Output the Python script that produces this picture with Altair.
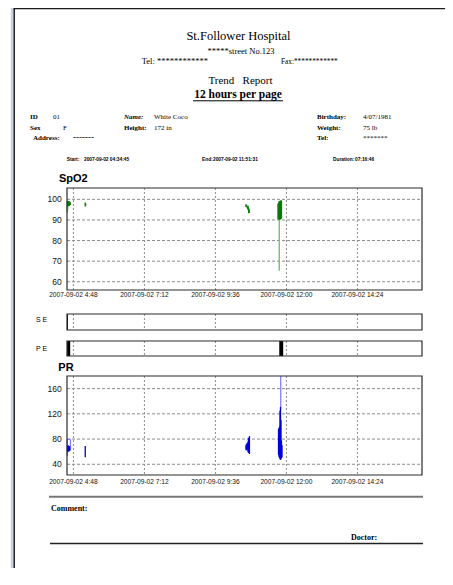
import altair as alt
import pandas as pd

# ---------------- data ----------------
hospital_name = "St.Follower Hospital"
hospital_street = "*****street No.123"
hospital_tel = "Tel: ************"
hospital_fax = "Fax:************"
report_title = "Trend\u00a0\u00a0\u00a0Report"
report_subtitle = "12 hours per page"

field_labels = ["ID", "Sex", "Address:", "Name:", "Height:", "Birthday:", "Weight:", "Tel:"]
field_values = ["01", "F", "-------", "White Coco", "172 in", "4/07/1981", "75 lb", "*******"]

session_labels = ["Start:", "End:", "Duration:"]
session_values = ["2007-09-02 04:34:45", "2007-09-02 11:51:31", "07:16:46"]

panel_titles = ["SpO2", "S E", "P E", "PR"]
footer_labels = ["Comment:", "Doctor:"]

# time in minutes after midnight, page covers 12 hours
time_domain = [275, 995]
tick_minutes = [288, 432, 576, 720, 864]
tick_labels = ["2007-09-02 4:48", "2007-09-02 7:12", "2007-09-02 9:36",
               "2007-09-02 12:00", "2007-09-02 14:24"]

spo2_domain = [56, 105.5]
spo2_ticks = [60, 70, 80, 90, 100]
pr_domain = [23, 180]
pr_ticks = [40, 80, 120, 160]

spo2_light_t = [275.5, 276.5, 705.5]
spo2_light_lo = [93.5, 95.0, 65.3]
spo2_light_hi = [99.0, 99.0, 91.0]

spo2_dark_t = [276.5, 277.5, 278.5, 279.5, 280.5, 281.5, 312, 312.8,
               638, 639, 640.5, 641.5, 642.5, 643.5, 644.5,
               703, 704, 705, 706, 707, 708, 709, 710]
spo2_dark_lo = [96.5, 96.8, 97.0, 96.8, 97.0, 97.3, 96.5, 96.8,
                96.3, 96.6, 95.8, 95.2, 94.8, 93.4, 93.2,
                90.3, 90.3, 90.2, 90.2, 90.2, 90.3, 90.4, 90.6]
spo2_dark_hi = [99.3, 99.0, 99.2, 98.8, 99.0, 98.6, 98.5, 98.0,
                97.6, 97.4, 96.8, 96.9, 96.6, 95.7, 95.2,
                97.8, 98.4, 98.9, 99.1, 99.3, 99.3, 99.4, 99.4]

pr_light_t = [275.5, 282.0, 708.5]
pr_light_lo = [53.0, 62.0, 128.0]
pr_light_hi = [79.5, 79.5, 180.0]
pr_light_top_t1 = [275.5]
pr_light_top_t2 = [282.0]
pr_light_top_v = [79.5]

pr_dark_t = [276.5, 277.5, 278.5, 279.5, 280.5, 312,
             638, 639, 640, 641, 642, 643, 645,
             704, 705, 706, 707, 708, 709, 710, 711]
pr_dark_lo = [60, 61, 60, 61, 62, 51,
              63, 62, 64, 64, 60, 58, 56.3,
              55, 52, 50, 48, 47, 48, 50, 51]
pr_dark_hi = [69, 70, 68, 69, 68, 69,
              70, 73, 72, 73, 76, 82, 84.7,
              97, 95, 100, 125, 131, 110, 78, 70]

se_start = [275]
se_end = [277]
pe_start = [275, 705.5]
pe_end = [281.5, 713.5]

# ---------------- styling / layout ----------------
OFF = 8  # page margin; all layout values below are page pixels
W, H = 437, 560
SERIF = "Liberation Serif"
SANS = "Liberation Sans"
DARK_GREEN = "#0b7a0b"
LIGHT_GREEN = "#6ec46e"
DARK_BLUE = "#0000dd"
LIGHT_BLUE = "#8080ff"
GRID = "#8c8c8c"
FRAME = "#2b2b2b"

PX0, PX1 = 67, 422
X_SCALE = alt.Scale(domain=time_domain, range=[PX0 - OFF, PX1 - OFF], zero=False, nice=False)
SPO2_TOP, SPO2_BOT = 188, 290
SPO2_Y = alt.Scale(domain=spo2_domain, range=[SPO2_BOT - OFF, SPO2_TOP - OFF], zero=False, nice=False)
PR_TOP, PR_BOT = 376, 475
PR_Y = alt.Scale(domain=pr_domain, range=[PR_BOT - OFF, PR_TOP - OFF], zero=False, nice=False)
SE_TOP, SE_BOT = 314, 330
PE_TOP, PE_BOT = 341, 356


def X(field):
    return alt.X(field, type="quantitative", scale=X_SCALE, axis=None)


def txt(s, x, y, size, font=SERIF, weight="normal", align="left",
        baseline="alphabetic", style="normal", color="#000000"):
    return alt.Chart().mark_text(
        align=align, baseline=baseline, font=font, fontSize=size,
        fontWeight=weight, fontStyle=style, color=color
    ).encode(x=alt.value(x - OFF), y=alt.value(y - OFF), text=alt.value(s))


def hline(x1, x2, y, color, width):
    return alt.Chart().mark_rule(color=color, strokeWidth=width).encode(
        x=alt.value(x1 - OFF), x2=alt.value(x2 - OFF), y=alt.value(y - OFF))


def vline(x, y1, y2, color, width):
    return alt.Chart().mark_rule(color=color, strokeWidth=width).encode(
        x=alt.value(x - OFF), y=alt.value(y1 - OFF), y2=alt.value(y2 - OFF))


def frame(top, bot, width=1.2):
    return alt.Chart().mark_rect(fillOpacity=0, stroke=FRAME, strokeWidth=width).encode(
        x=alt.value(PX0 - OFF), x2=alt.value(PX1 - OFF),
        y=alt.value(top - OFF), y2=alt.value(bot - OFF))


layers = []

# page border
layers.append(vline(12, OFF, OFF + H, "#c9d1ea", 2.5))
layers.append(vline(14.2, OFF + 0.5, OFF + H, "#1a1a1a", 1.5))
layers.append(hline(13.5, OFF + W, OFF + 0.6, "#1a1a1a", 1.2))

# header
layers.append(txt(hospital_name, 238.5, 39.5, 12.5, align="center"))
layers.append(txt(hospital_street, 241, 54, 8.5, align="center"))
layers.append(txt(hospital_tel, 141.7, 63.5, 8.5))
layers.append(txt(hospital_fax, 281, 63.5, 7.3))
layers.append(txt(report_title, 240.5, 83.5, 11, align="center"))
layers.append(txt(report_subtitle, 238, 98, 11.5, weight="bold", align="center"))
layers.append(hline(193, 283, 100.8, "#000000", 1))

# patient info
label_pos = [(30, 118.5), (30, 130), (33, 140), (124, 118.5), (124, 130),
             (317, 118.5), (317, 130), (317, 140)]
value_pos = [(53, 118.5), (63, 130), (73, 140), (154, 118.5), (154, 130),
             (363, 118.5), (363, 130), (363, 140)]
for i, (lab, val) in enumerate(zip(field_labels, field_values)):
    lx, ly = label_pos[i]
    vx, vy = value_pos[i]
    layers.append(txt(lab, lx, ly, 7, weight="bold",
                      style="italic" if lab == "Name:" else "normal"))
    layers.append(txt(val, vx, vy, 9 if val.startswith("-") else 7,
                      weight="bold" if val.startswith("-") else "normal"))

sess_label_x = [66.7, 202, 333]
sess_value_x = [84, 213, 355]
for i in range(3):
    layers.append(txt(session_labels[i], sess_label_x[i], 160, 4.8, font=SANS,
                      weight="bold", baseline="middle"))
    layers.append(txt(session_values[i], sess_value_x[i], 160, 4.8, font=SANS,
                      weight="bold", baseline="middle"))

# panel titles
layers.append(txt(panel_titles[0], 59, 179, 11, font=SANS, weight="bold", baseline="middle"))
layers.append(txt(panel_titles[1], 36, 320, 7, font=SANS, baseline="middle"))
layers.append(txt(panel_titles[2], 36, 348.5, 7, font=SANS, baseline="middle"))
layers.append(txt(panel_titles[3], 58.3, 368, 11, font=SANS, weight="bold", baseline="middle"))

tick_df = pd.DataFrame({"t": tick_minutes, "label": tick_labels})
spo2_tick_df = pd.DataFrame({"v": spo2_ticks})
pr_tick_df = pd.DataFrame({"v": pr_ticks})

# vertical dashed grid in every panel
for top, bot in [(SPO2_TOP, SPO2_BOT), (SE_TOP, SE_BOT), (PE_TOP, PE_BOT), (PR_TOP, PR_BOT)]:
    layers.append(alt.Chart(tick_df).mark_rule(color=GRID, strokeWidth=1, strokeDash=[2, 2]).encode(
        x=X("t"), y=alt.value(top - OFF), y2=alt.value(bot - OFF)))

# horizontal dashed grid
layers.append(alt.Chart(spo2_tick_df).mark_rule(color=GRID, strokeWidth=1, strokeDash=[3, 2]).encode(
    y=alt.Y("v:Q", scale=SPO2_Y, axis=None), x=alt.value(PX0 - OFF), x2=alt.value(PX1 - OFF)))
layers.append(alt.Chart(pr_tick_df).mark_rule(color=GRID, strokeWidth=1, strokeDash=[3, 2]).encode(
    y=alt.Y("v:Q", scale=PR_Y, axis=None), x=alt.value(PX0 - OFF), x2=alt.value(PX1 - OFF)))

# y tick labels
layers.append(alt.Chart(spo2_tick_df).mark_text(align="right", baseline="middle", font=SANS,
                                                 fontSize=8.5, color="#111111").encode(
    y=alt.Y("v:Q", scale=SPO2_Y, axis=None), x=alt.value(61.7 - OFF), text="v:Q"))
layers.append(alt.Chart(pr_tick_df).mark_text(align="right", baseline="middle", font=SANS,
                                               fontSize=8.5, color="#111111").encode(
    y=alt.Y("v:Q", scale=PR_Y, axis=None), x=alt.value(61.7 - OFF), text="v:Q"))

# x tick labels
for ylab in [295, 481.7]:
    layers.append(alt.Chart(tick_df).mark_text(align="center", baseline="middle", font=SANS,
                                               fontSize=6.6, color="#111111").encode(
        x=X("t"), y=alt.value(ylab - OFF), text="label:N"))

# SpO2 data
spo2_light = pd.DataFrame({"t": spo2_light_t, "lo": spo2_light_lo, "hi": spo2_light_hi})
spo2_dark = pd.DataFrame({"t": spo2_dark_t, "lo": spo2_dark_lo, "hi": spo2_dark_hi})
layers.append(alt.Chart(spo2_light).mark_rule(color=LIGHT_GREEN, strokeWidth=1.4).encode(
    x=X("t"), y=alt.Y("lo:Q", scale=SPO2_Y, axis=None), y2="hi:Q"))
layers.append(alt.Chart(spo2_dark).mark_rule(color=DARK_GREEN, strokeWidth=1.3).encode(
    x=X("t"), y=alt.Y("lo:Q", scale=SPO2_Y, axis=None), y2="hi:Q"))

# PR data
pr_light = pd.DataFrame({"t": pr_light_t, "lo": pr_light_lo, "hi": pr_light_hi})
pr_light_top = pd.DataFrame({"t1": pr_light_top_t1, "t2": pr_light_top_t2, "v": pr_light_top_v})
pr_dark = pd.DataFrame({"t": pr_dark_t, "lo": pr_dark_lo, "hi": pr_dark_hi})
layers.append(alt.Chart(pr_light).mark_rule(color=LIGHT_BLUE, strokeWidth=1.3).encode(
    x=X("t"), y=alt.Y("lo:Q", scale=PR_Y, axis=None), y2="hi:Q"))
layers.append(alt.Chart(pr_light_top).mark_rule(color=LIGHT_BLUE, strokeWidth=1.3).encode(
    x=X("t1"), x2="t2:Q", y=alt.Y("v:Q", scale=PR_Y, axis=None)))
layers.append(alt.Chart(pr_dark).mark_rule(color=DARK_BLUE, strokeWidth=1.3).encode(
    x=X("t"), y=alt.Y("lo:Q", scale=PR_Y, axis=None), y2="hi:Q"))

# SE / PE event blocks
se_df = pd.DataFrame({"t1": se_start, "t2": se_end})
pe_df = pd.DataFrame({"t1": pe_start, "t2": pe_end})
layers.append(alt.Chart(se_df).mark_rect(color="#000000").encode(
    x=X("t1"), x2="t2:Q", y=alt.value(SE_TOP - OFF), y2=alt.value(SE_BOT - OFF)))
layers.append(alt.Chart(pe_df).mark_rect(color="#000000").encode(
    x=X("t1"), x2="t2:Q", y=alt.value(PE_TOP - OFF), y2=alt.value(PE_BOT - OFF)))

# frames
for top, bot in [(SPO2_TOP, SPO2_BOT), (SE_TOP, SE_BOT), (PE_TOP, PE_BOT), (PR_TOP, PR_BOT)]:
    layers.append(frame(top, bot))

# footer
layers.append(hline(49, 423, 496.7, "#777777", 2))
layers.append(txt(footer_labels[0], 51, 508.5, 8, weight="bold", baseline="middle"))
layers.append(txt(footer_labels[1], 351, 538, 8, weight="bold", baseline="middle"))
layers.append(hline(50, 423, 543.5, "#222222", 1.4))

chart = alt.layer(*layers).resolve_scale(y="independent").properties(
    width=W, height=H, padding=0,
    autosize=alt.AutoSizeParams(type="none"),
    background="#ffffff",
).configure_view(strokeWidth=0)

chart.save("out.html", embed_options={"renderer": "svg", "actions": False})
